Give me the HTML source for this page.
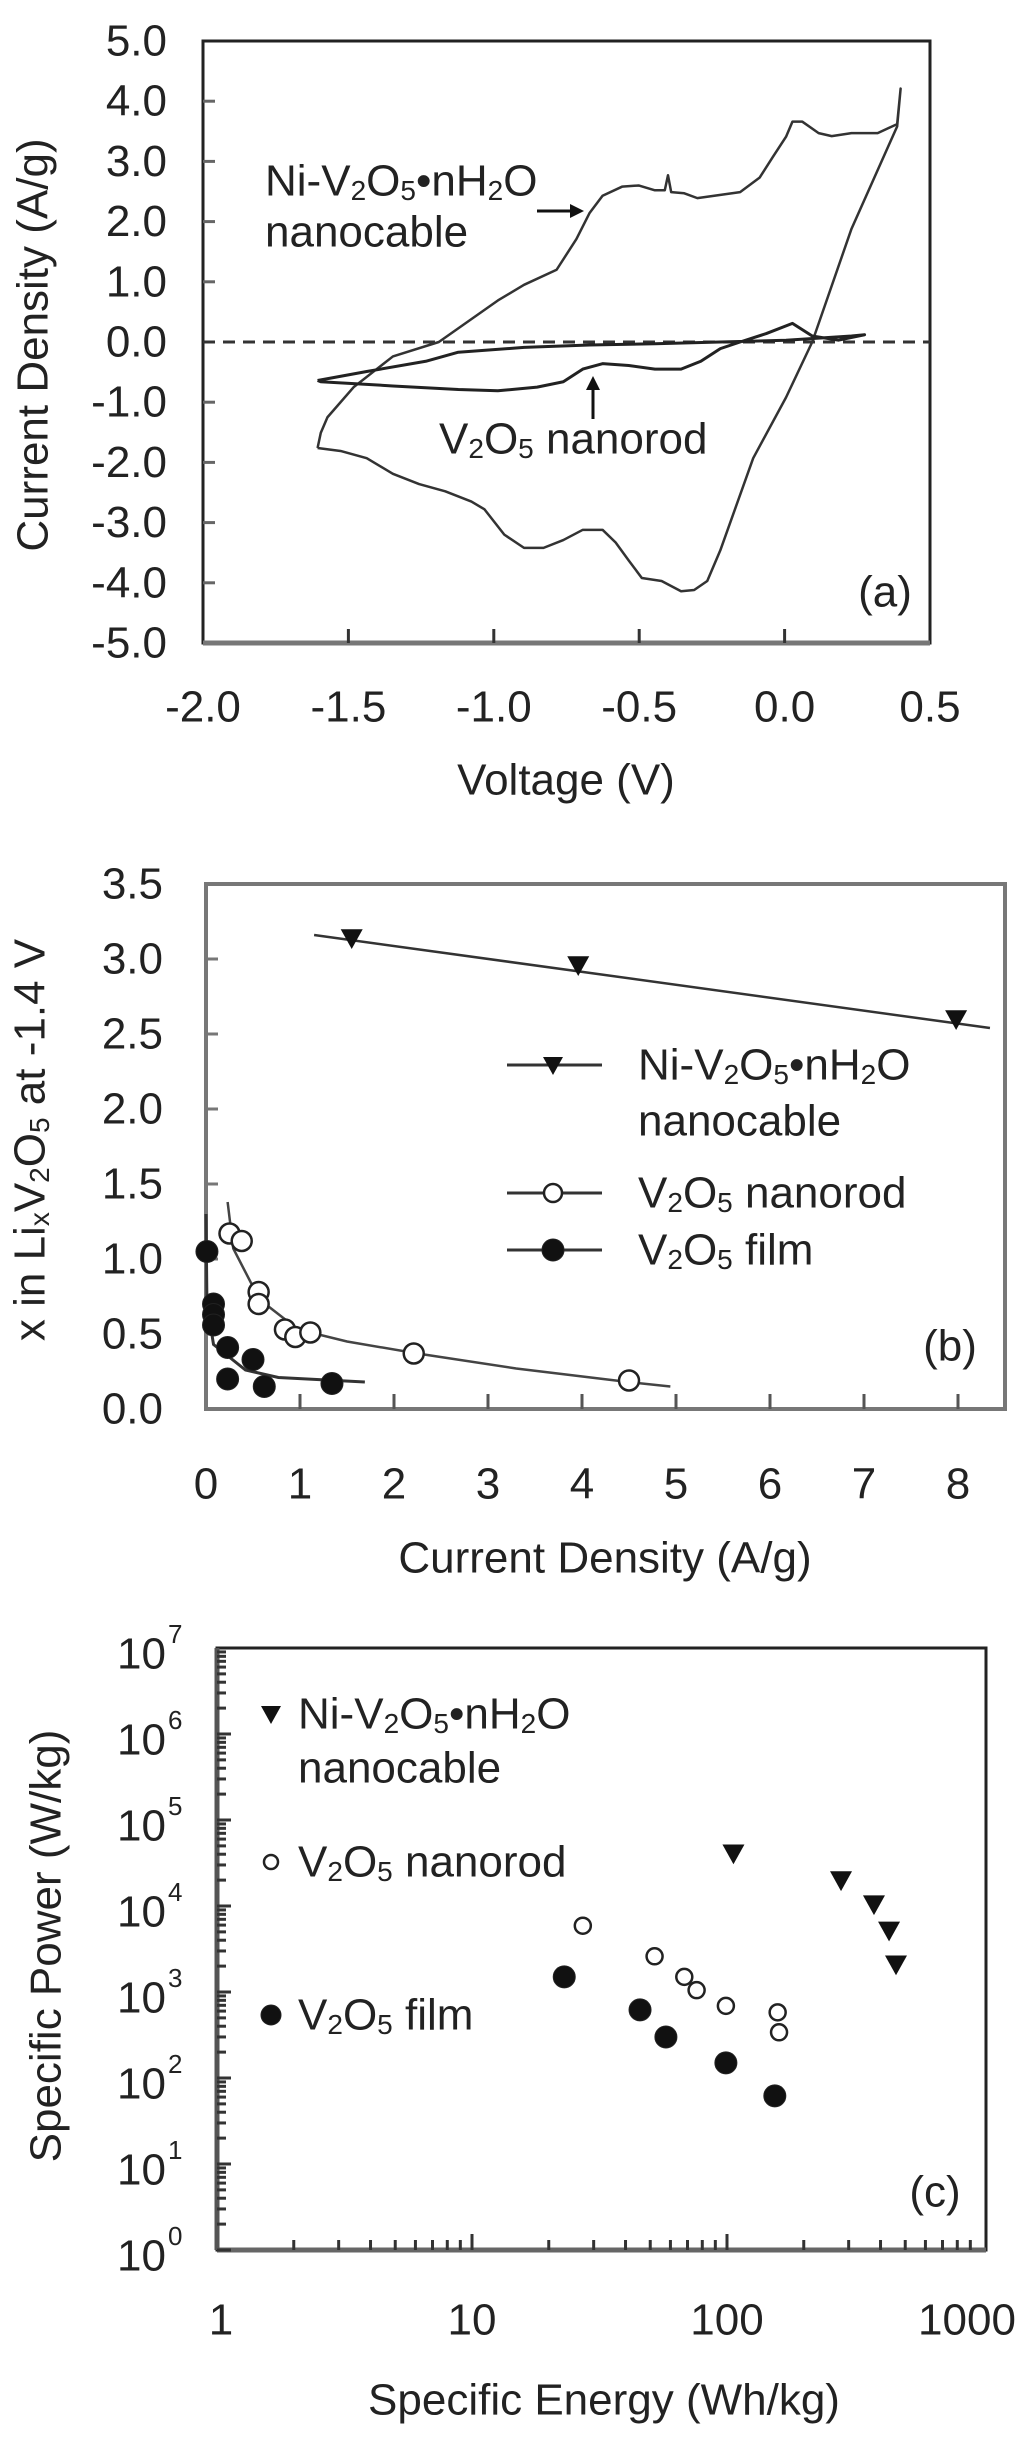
<!DOCTYPE html>
<html><head><meta charset="utf-8"><style>
html,body{margin:0;padding:0;background:#fff;}
svg{display:block;font-family:"Liberation Sans",Arial,sans-serif;}
text{fill:#222;}
</style></head><body>
<svg id="fig" width="1024" height="2445" viewBox="0 0 1024 2445" xmlns="http://www.w3.org/2000/svg"></svg>
<script>
// ---------- Panel (a) data: cyclic voltammetry ----------
const aCableV = [-1.606,-1.595,-1.572,-1.482,-1.347,-1.189,-0.986,-0.896,-0.784,-0.716,-0.671,-0.626,-0.559,-0.502,-0.446,-0.412,-0.401,-0.390,-0.345,-0.300,-0.153,-0.086,-0.041,0.005,0.027,0.061,0.117,0.162,0.230,0.320,0.387,0.399,0.387,0.230,0.095,0.005,-0.108,-0.221,-0.266,-0.311,-0.356,-0.423,-0.491,-0.536,-0.581,-0.626,-0.694,-0.761,-0.829,-0.896,-0.964,-1.032,-1.077,-1.167,-1.257,-1.347,-1.437,-1.527,-1.606];
const aCableI = [-1.76,-1.51,-1.25,-0.75,-0.24,0.0,0.69,0.95,1.20,1.71,2.14,2.43,2.58,2.60,2.52,2.52,2.77,2.49,2.47,2.39,2.49,2.73,3.07,3.41,3.66,3.66,3.47,3.42,3.47,3.47,3.62,4.21,3.58,1.88,0.0,-0.92,-1.93,-3.46,-3.97,-4.12,-4.14,-3.97,-3.92,-3.63,-3.33,-3.12,-3.12,-3.29,-3.42,-3.42,-3.20,-2.78,-2.65,-2.48,-2.36,-2.19,-1.93,-1.81,-1.76];
const aRodV = [-1.606,-1.437,-1.234,-1.122,-0.896,-0.671,-0.446,-0.221,0.005,0.230,0.275,0.185,0.095,0.027,-0.063,-0.153,-0.221,-0.288,-0.356,-0.446,-0.536,-0.626,-0.694,-0.761,-0.851,-0.986,-1.122,-1.347,-1.595,-1.606];
const aRodI = [-0.64,-0.49,-0.32,-0.17,-0.09,-0.05,-0.03,0.0,0.03,0.10,0.12,0.03,0.10,0.31,0.14,0.0,-0.11,-0.32,-0.45,-0.45,-0.39,-0.36,-0.45,-0.66,-0.75,-0.81,-0.79,-0.73,-0.66,-0.64];
const aXTicks = [-2.0,-1.5,-1.0,-0.5,0.0,0.5];
const aYTicks = [5,4,3,2,1,0,-1,-2,-3,-4,-5];

// ---------- Panel (b) data ----------
const bCableX = [1.55,3.96,7.98];
const bCableY = [3.14,2.96,2.60];
const bCableFitX = [1.15,8.34];
const bCableFitY = [3.16,2.54];
const bRodX = [0.25,0.38,0.56,0.56,0.84,0.95,1.11,2.21,4.5];
const bRodY = [1.17,1.12,0.78,0.70,0.53,0.48,0.51,0.37,0.19];
const bRodFitX = [0.23,0.29,0.57,0.98,1.5,2.25,3.3,4.49,4.94];
const bRodFitY = [1.38,1.07,0.73,0.53,0.45,0.37,0.27,0.18,0.15];
const bFilmX = [0.01,0.08,0.08,0.08,0.23,0.23,0.50,0.62,1.34];
const bFilmY = [1.05,0.70,0.63,0.56,0.41,0.20,0.33,0.15,0.17];
const bFilmFitX = [0.0,0.01,0.08,0.42,0.77,1.69];
const bFilmFitY = [1.30,0.70,0.43,0.26,0.21,0.18];
const bXTicks = [0,1,2,3,4,5,6,7,8];
const bYTicks = [0,0.5,1,1.5,2,2.5,3,3.5];

// ---------- Panel (c) data: Ragone plot ----------
const cCableE = [106,280,377,432,460];
const cCableP = [4.1e4,2.0e4,1.05e4,5.2e3,2.1e3];
const cRodE = [27.2,52,68,76,99,158,160];
const cRodP = [5.9e3,2.6e3,1.5e3,1.05e3,690,580,340];
const cFilmE = [23,45.6,57.6,99,154];
const cFilmP = [1.5e3,620,300,150,62];
const cXTicks = ["1","10","100","1000"];
const cYExp = ["0","1","2","3","4","5","6","7"];

const svg = document.getElementById('fig');
const NS = 'http://www.w3.org/2000/svg';
function mk(tag, attrs, parent){
  const e = document.createElementNS(NS, tag);
  for (const k in attrs) e.setAttribute(k, attrs[k]);
  (parent||svg).appendChild(e);
  return e;
}
function txt(x,y,s,size,anchor,parent){
  const t = mk('text',{x:x,y:y,'font-size':size,'text-anchor':anchor||'middle','dominant-baseline':'central'},parent);
  t.innerHTML = s;
  return t;
}
const SUB = (d)=>`<tspan font-size="28" baseline-shift="-9">${d}</tspan>`;
const FORMULA = `Ni-V${SUB(2)}O${SUB(5)}•nH${SUB(2)}O`;

// ================= Panel (a) =================
const gA = mk('g',{});


const aL=203,aR=930,aT=41,aB=643;
const ax = v => aL + (v+2)/2.5*(aR-aL);
const ay = i => aT + (5-i)/10*(aB-aT);
mk('rect',{x:aL,y:aT,width:aR-aL,height:aB-aT,fill:'none',stroke:'#222','stroke-width':3},gA);
mk('line',{x1:aL,y1:aB,x2:aR,y2:aB,stroke:'#777','stroke-width':5},gA);
aYTicks.forEach(v=>{
  const y=ay(v);
  if(v!==5&&v!==-5){const tk=mk('line',{x1:aL,x2:aL+12,y1:y,y2:y,stroke:'#666','stroke-width':3},gA);
  }
  const t=txt(167,y,v.toFixed(1),44,'end',gA);
  
});
aXTicks.forEach(v=>{
  const x=ax(v);
  if(v>-2&&v<0.5){const tk=mk('line',{x1:x,x2:x,y1:aB,y2:aB-14,stroke:'#333','stroke-width':3},gA);
  }
  const t=txt(x,707,v.toFixed(1),44,'middle',gA);
  
});
const zl=mk('line',{x1:aL,x2:aR,y1:ay(0),y2:ay(0),stroke:'#333','stroke-width':3,'stroke-dasharray':'12 8'},gA);

function poly(xs,ys,fx,fy,attrs,parent,name){
  const p=mk('polyline',Object.assign({points:xs.map((v,i)=>fx(v)+','+fy(ys[i])).join(' '),fill:'none'},attrs),parent);
  
  return p;
}
poly(aCableV,aCableI,ax,ay,{stroke:'#333','stroke-width':2.5,'stroke-linejoin':'round'},gA,'nanocable-cv-curve');
poly(aRodV,aRodI,ax,ay,{stroke:'#222','stroke-width':3,'stroke-linejoin':'round'},gA,'nanorod-cv-curve');
let t;
t=txt(265,181,FORMULA,44,'start',gA);
t=txt(265,232,'nanocable',44,'start',gA);
t=txt(439,439,`V${SUB(2)}O${SUB(5)} nanorod`,44,'start',gA);
let ar=mk('line',{x1:537,y1:211,x2:572,y2:211,stroke:'#111','stroke-width':3},gA);

mk('polygon',{points:'584,211 570,204 570,218',fill:'#111'},gA);
ar=mk('line',{x1:593,y1:419,x2:593,y2:388,stroke:'#111','stroke-width':3},gA);

mk('polygon',{points:'593,376 586,390 600,390',fill:'#111'},gA);
t=txt(885,592,'(a)',44,'middle',gA);
t=txt(566,780,'Voltage (V)',44,'middle',gA);
t=txt(0,0,'Current Density (A/g)',44,'middle',gA);t.setAttribute('transform','translate(33,345) rotate(-90)');


// ================= Panel (b) =================
const gB = mk('g',{});


const bL=206,bR=1005,bT=884,bB=1409;
const bx = v => bL + v*94;
const by = v => bB - v/3.5*(bB-bT);
mk('rect',{x:bL,y:bT,width:bR-bL,height:bB-bT,fill:'none',stroke:'#777','stroke-width':4},gB);
bYTicks.forEach(v=>{
  const y=by(v);
  if(v>0&&v<3.5){const tk=mk('line',{x1:bL,x2:bL+12,y1:y,y2:y,stroke:'#777','stroke-width':3},gB);
  }
  const t=txt(163,y,v.toFixed(1),44,'end',gB);
  
});
bXTicks.forEach(v=>{
  const x=bx(v);
  if(v>0){const tk=mk('line',{x1:x,x2:x,y1:bB,y2:bB-15,stroke:'#555','stroke-width':3},gB);
  }
  const t=txt(x,1484,String(v),44,'middle',gB);
  
});
poly(bCableFitX,bCableFitY,bx,by,{stroke:'#333','stroke-width':2.5},gB,'nanocable-fit-line');
poly(bRodFitX,bRodFitY,bx,by,{stroke:'#444','stroke-width':2.5},gB,'nanorod-fit-curve');
poly(bFilmFitX,bFilmFitY,bx,by,{stroke:'#333','stroke-width':3},gB,'film-fit-curve');
function tri(x,y,s,parent,name){
  const p=mk('polygon',{points:`${x-s},${y-s*0.8} ${x+s},${y-s*0.8} ${x},${y+s}`,fill:'#111'},parent);
  return p;
}
function circ(x,y,r,filled,parent,name){
  const c=mk('circle',{cx:x,cy:y,r:r,fill:filled?'#111':'#fff',stroke:'#222','stroke-width':filled?1:2.5},parent);
  return c;
}
bCableX.forEach((v,i)=>tri(bx(v),by(bCableY[i]),11,gB,'nanocable-point'));
bRodX.forEach((v,i)=>circ(bx(v),by(bRodY[i]),10,false,gB,'nanorod-point'));
bFilmX.forEach((v,i)=>circ(bx(v),by(bFilmY[i]),11,true,gB,'film-point'));
// legend
const lgB = mk('g',{},gB);

[[1065,'cable'],[1193,'rod'],[1250,'film']].forEach(([y,k])=>{
  const l=mk('line',{x1:507,x2:602,y1:y,y2:y,stroke:'#333','stroke-width':3},lgB);
  
  if(k==='cable') tri(553,y,10,lgB,'legend-marker-cable');
  else circ(553,y,k==='rod'?9:11,k==='film',lgB,'legend-marker-'+k);
});
t=txt(638,1065,FORMULA,44,'start',lgB);
t=txt(638,1121,'nanocable',44,'start',lgB);
t=txt(638,1193,`V${SUB(2)}O${SUB(5)} nanorod`,44,'start',lgB);
t=txt(638,1250,`V${SUB(2)}O${SUB(5)} film`,44,'start',lgB);
t=txt(950,1346,'(b)',44,'middle',gB);
t=txt(605,1558,'Current Density (A/g)',44,'middle',gB);
t=txt(0,0,`x in Li<tspan font-size="28" baseline-shift="-9">x</tspan>V${SUB(2)}O${SUB(5)} at -1.4 V`,44,'middle',gB);
t.setAttribute('transform','translate(30,1140) rotate(-90)');


// ================= Panel (c) =================
const gC = mk('g',{});


const cL=217,cR=986,cT=1648,cB=2250;
const cx = e => cL + Math.log10(e)*255;
const cy = p => cB - Math.log10(p)*86;
mk('rect',{x:cL,y:cT,width:cR-cL,height:cB-cT,fill:'none',stroke:'#222','stroke-width':3},gC);
mk('line',{x1:cL,y1:cB,x2:cR,y2:cB,stroke:'#666','stroke-width':5},gC);
mk('line',{x1:cL,y1:cT,x2:cL,y2:cB,stroke:'#555','stroke-width':5},gC);
for(let d=0; d<7; d++){
  for(let m=1;m<10;m++){
    const y=cy(m*Math.pow(10,d));
    const tk=mk('line',{x1:cL,x2:cL+(m===1?14:9),y1:y,y2:y,stroke:'#333','stroke-width':3},gC);
    
  }
}
for(let d=0; d<3; d++){
  for(let m=1;m<10;m++){
    const x=cx(m*Math.pow(10,d));
    if(x<=cL+2) continue;
    const tk=mk('line',{x1:x,x2:x,y1:cB,y2:cB-(m===1?16:10),stroke:'#333','stroke-width':3},gC);
    
  }
}
cYExp.forEach((e,i)=>{
  const y=cy(Math.pow(10,i))+6;
  const t=txt(166,y,'10',44,'end',gC);
  
  const s=txt(168,y-20,e,26,'start',gC);
  
});
cXTicks.forEach((s,i)=>{
  const t=txt(cx(Math.pow(10,i))+(i===0?4:(i===3?-15:0)),2320,s,44,'middle',gC);
  
});
cCableE.forEach((v,i)=>tri(cx(v),cy(cCableP[i]),11,gC,'nanocable-point'));
cRodE.forEach((v,i)=>circ(cx(v),cy(cRodP[i]),8,false,gC,'nanorod-point'));
cFilmE.forEach((v,i)=>circ(cx(v),cy(cFilmP[i]),11,true,gC,'film-point'));
const lgC = mk('g',{},gC);

tri(271,1714,10,lgC,'legend-marker-cable');
circ(271,1862,7,false,lgC,'legend-marker-rod');
circ(271,2015,10,true,lgC,'legend-marker-film');
t=txt(298,1714,FORMULA,44,'start',lgC);
t=txt(298,1768,'nanocable',44,'start',lgC);
t=txt(298,1862,`V${SUB(2)}O${SUB(5)} nanorod`,44,'start',lgC);
t=txt(298,2015,`V${SUB(2)}O${SUB(5)} film`,44,'start',lgC);
t=txt(935,2192,'(c)',44,'middle',gC);
t=txt(604,2400,'Specific Energy (Wh/kg)',44,'middle',gC);
t=txt(0,0,'Specific Power (W/kg)',44,'middle',gC);t.setAttribute('transform','translate(46,1946) rotate(-90)');

</script>
</body></html>
